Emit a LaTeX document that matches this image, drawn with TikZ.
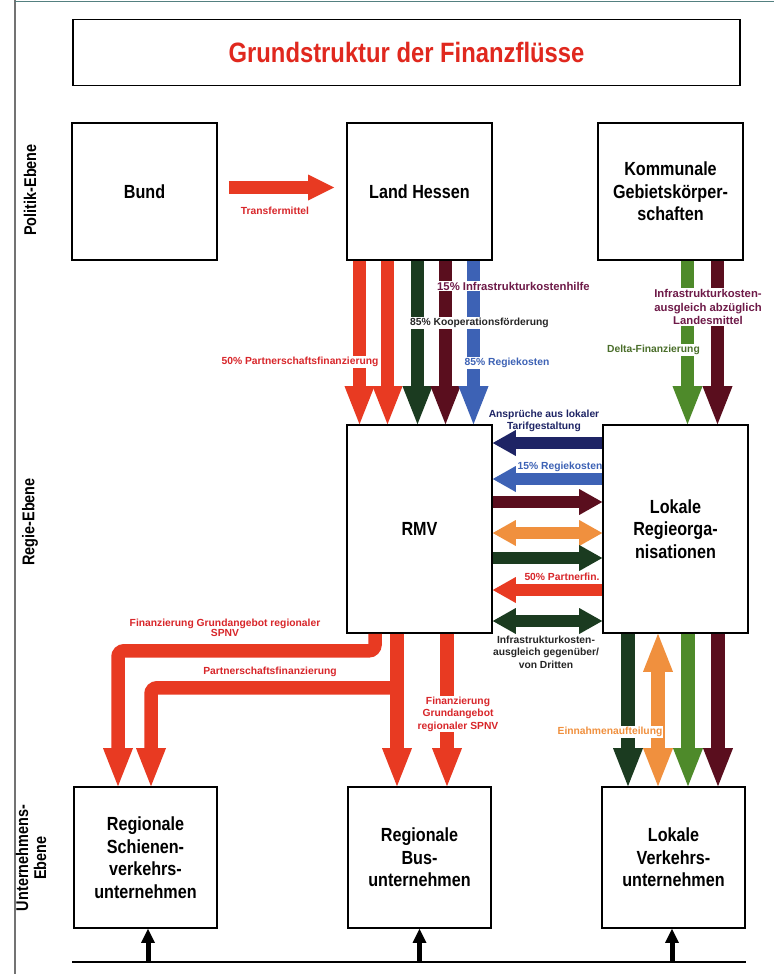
\documentclass[tikz,border=0pt]{standalone}
\usepackage{fontspec}
\setmainfont{Liberation Sans}
\newfontfamily\condfont{Liberation Sans}[FakeStretch=0.85]
\usetikzlibrary{arrows.meta,calc}
\definecolor{ctitle}{HTML}{E0281E}
\definecolor{cred}{HTML}{E83A22}
\definecolor{cdkgreen}{HTML}{1B3B20}
\definecolor{cmaroon}{HTML}{5A0E1E}
\definecolor{cblue}{HTML}{3D62B5}
\definecolor{cnavy}{HTML}{1E2465}
\definecolor{corange}{HTML}{F0903E}
\definecolor{colive}{HTML}{4E8A2A}
\definecolor{cpurple}{HTML}{6E1A48}
\definecolor{cdelta}{HTML}{4A6E2A}
\definecolor{clbltxt}{HTML}{D8262A}
\begin{document}
\begin{tikzpicture}[x=1pt,y=-1pt,
  box/.style={draw, line width=1.6pt, fill=white, minimum width=145pt, minimum height=137pt,
    inner sep=0pt, align=center, font=\condfont\bfseries\fontsize{19}{22.5}\selectfont},
  tallbox/.style={box, minimum height=208pt},
  lbl/.style={font=\bfseries\fontsize{10.3}{12.5}\selectfont, inner sep=1pt, align=center},
  wlbl/.style={lbl, fill=white},
  side/.style={rotate=90, align=center, font=\condfont\bfseries\fontsize{17}{18}\selectfont},
  tipv/.tip={Triangle[width=30pt,length=38pt,line width=0pt]},
  tiph/.tip={Triangle[width=26pt,length=23pt,line width=0pt]},
  tipu/.tip={Triangle[width=14pt,length=14pt,line width=0pt]},
  fatv/.style={line width=13.5pt, -tipv},
  fath/.style={line width=12pt, -tiph},
  fathb/.style={line width=12pt, tiph-tiph},
  fatvb/.style={line width=13.5pt, tipv-tipv},
  thinup/.style={line width=5pt, -tipu},
]
\useasboundingbox (0,0) rectangle (774,974);
\fill[white] (0,0) rectangle (774,974);
\draw[black!55, line width=1.3pt] (15,0) -- (15,974);
\draw[teal!35!gray, line width=1pt] (15,2) -- (774,2);

% title
\node[draw, line width=1.6pt, minimum width=667pt, minimum height=66pt, inner sep=0pt,
  text=ctitle, font=\condfont\bfseries\fontsize{28}{30}\selectfont] (title) at (406.5,52.5)
  {Grundstruktur der Finanzflüsse};

% level labels
\node[side] (pol) at (30,190) {Politik-Ebene};
\node[side] (reg) at (30,522) {Regie-Ebene};
\node[side] (unt) at (31,858) {Unternehmens-\\Ebene};

% boxes
\node[box] (bund) at (144.5,191.5) {Bund};
\node[box] (land) at (419.5,191.5) {Land Hessen};
\node[box] (kom) at (670.5,191.5) {Kommunale\\Gebietskörper-\\schaften};
\node[tallbox] (rmv) at (419.5,529) {RMV};
\node[tallbox] (lokale) at (675.5,529) {Lokale\\Regieorga-\\nisationen};
\node[box, minimum width=143pt, minimum height=141pt] (schiene) at (145.5,857.5) {Regionale\\Schienen-\\verkehrs-\\unternehmen};
\node[box, minimum width=143pt, minimum height=141pt] (bus) at (419.5,857.5) {Regionale\\Bus-\\unternehmen};
\node[box, minimum width=143pt, minimum height=141pt] (lvu) at (673.5,857.5) {Lokale\\Verkehrs-\\unternehmen};

% Bund -> Land
\draw[line width=13pt, -{Triangle[width=26pt,length=26pt,line width=0pt]}, cred]
  ($(bund.east)+(11,-4)$) -- ($(land.west)+(-12,-4)$);

% Land -> RMV
\draw[fatv, cred]     ($(land.south)+(-60,0)$) -- ($(land.south|-rmv.north)+(-60,0)$);
\draw[fatv, cred]     ($(land.south)+(-32,0)$) -- ($(land.south|-rmv.north)+(-32,0)$);
\draw[fatv, cdkgreen] ($(land.south)+(-2,0)$)  -- ($(land.south|-rmv.north)+(-2,0)$);
\draw[fatv, cmaroon]  ($(land.south)+(26,0)$)  -- ($(land.south|-rmv.north)+(26,0)$);
\draw[fatv, cblue]    ($(land.south)+(54,0)$)  -- ($(land.south|-rmv.north)+(54,0)$);

% Kommunale -> Lokale
\draw[fatv, colive]  ($(kom.south)+(17,0)$) -- ($(kom.south|-lokale.north)+(17,0)$);
\draw[fatv, cmaroon] ($(kom.south)+(47,0)$) -- ($(kom.south|-lokale.north)+(47,0)$);

% RMV <-> Lokale
\draw[fath, cnavy]     ($(lokale.west)+(0,-86)$) -- ($(rmv.east)+(0,-86)$);
\draw[fath, cblue]     ($(lokale.west)+(0,-50)$) -- ($(rmv.east)+(0,-50)$);
\draw[fath, cmaroon]   ($(rmv.east)+(0,-27)$) -- ($(lokale.west)+(0,-27)$);
\draw[fathb, corange]  ($(rmv.east)+(0,4)$) -- ($(lokale.west)+(0,4)$);
\draw[fath, cdkgreen]  ($(rmv.east)+(0,29)$) -- ($(lokale.west)+(0,29)$);
\draw[fath, cred]      ($(lokale.west)+(0,61)$) -- ($(rmv.east)+(0,61)$);
\draw[fathb, cdkgreen] ($(rmv.east)+(0,92)$) -- ($(lokale.west)+(0,92)$);

% RMV -> companies
\draw[fatv, cred, rounded corners=6pt] ($(rmv.south)+(-44.5,0)$) -- ++(0,17) -| ($(schiene.north)+(-27.5,0)$);
\draw[fatv, cred] ($(rmv.south)+(-22.5,0)$) -- ($(bus.north)+(-22.5,0)$);
\draw[fatv, cred, rounded corners=6pt] ($(rmv.south)+(-22.5,54)$) -| ($(schiene.north)+(5.5,0)$);
\draw[fatv, cred] ($(rmv.south)+(27.5,0)$) -- ($(bus.north)+(27.5,0)$);

% Lokale -> LVU
\draw[fatv, cdkgreen] ($(lokale.south)+(-47.5,0)$) -- ($(lokale.south|-lvu.north)+(-47.5,0)$);
\draw[fatvb, corange] ($(lokale.south)+(-17.5,0)$) -- ($(lokale.south|-lvu.north)+(-17.5,0)$);
\draw[fatv, colive]   ($(lokale.south)+(12.5,0)$)  -- ($(lokale.south|-lvu.north)+(12.5,0)$);
\draw[fatv, cmaroon]  ($(lokale.south)+(42.5,0)$)  -- ($(lokale.south|-lvu.north)+(42.5,0)$);

% bottom line and up arrows
\coordinate (bl) at (72,962);
\coordinate (br) at (746,962);
\draw[line width=2pt] (bl) -- (br);
\draw[thinup] ($(schiene.south|-bl)+(2.5,0)$) -- ($(schiene.south)+(2.5,0)$);
\draw[thinup] (bus.south|-bl) -- (bus.south);
\draw[thinup] ($(lvu.south|-bl)+(-1.5,0)$) -- ($(lvu.south)+(-1.5,0)$);

% labels
\node[lbl, text=clbltxt] (ltrans) at (275,211) {Transfermittel};
\node[wlbl, text=cpurple, font=\bfseries\fontsize{11.3}{12.5}\selectfont, anchor=west] (l15i) at (436,286) {15\% Infrastrukturkostenhilfe};
\node[wlbl, text=black!85, anchor=west] (l85k) at (409,323) {85\% Kooperationsförderung};
\node[wlbl, text=clbltxt] (l50p) at (300,362) {50\% Partnerschaftsfinanzierung};
\node[wlbl, text=cblue] (l85r) at (507,363) {85\% Regiekosten};
\node[wlbl, text=cpurple, font=\bfseries\fontsize{11.3}{13.5}\selectfont] (linfk) at (708,307) {Infrastrukturkosten-\\ausgleich abzüglich\\Landesmittel};
\node[wlbl, text=cdelta, anchor=east] (ldelta) at (701,350) {Delta-Finanzierung};
\node[lbl, text=cnavy] (lanspr) at (544,421) {Ansprüche aus lokaler\\Tarifgestaltung};
\node[lbl, text=cblue] (l15r) at (560,467) {15\% Regiekosten};
\node[lbl, text=clbltxt] (l50pf) at (562,577) {50\% Partnerfin.};
\node[lbl, text=black!85] (ldritt) at (546,652) {Infrastrukturkosten-\\ausgleich gegenüber/\\von Dritten};
\node[lbl, text=clbltxt, font=\bfseries\fontsize{10.3}{10.5}\selectfont] (lfin1) at (225,628) {Finanzierung Grundangebot regionaler\\SPNV};
\node[lbl, text=clbltxt] (lpart) at (270,672) {Partnerschaftsfinanzierung};
\node[wlbl, text=clbltxt] (lfin2) at (458,714) {Finanzierung\\Grundangebot\\regionaler SPNV};
\node[wlbl, text=corange] (lein) at (610,732) {Einnahmenaufteilung};
\end{tikzpicture}
\end{document}
